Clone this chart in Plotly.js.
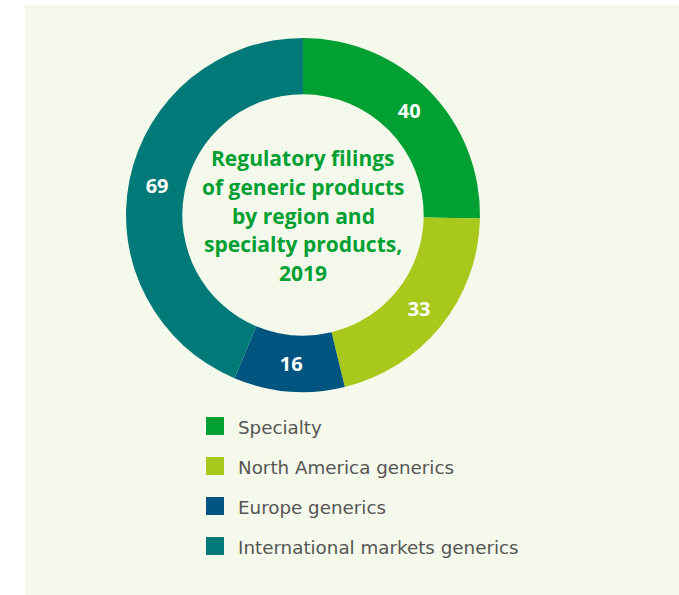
<!DOCTYPE html>
<html>
<head>
<meta charset="utf-8">
<script src="https://cdn.plot.ly/plotly-3.0.1.min.js"></script>
<style>
html,body{margin:0;padding:0;background:#ffffff;}
#chart{width:679px;height:595px;}
</style>
</head>
<body>
<div id="chart"></div>
<script>
const categories = ["Specialty", "North America generics", "Europe generics", "International markets generics"];
const values = [40, 33, 16, 69];
const colors = ["#00a032", "#a8c81c", "#005580", "#007a78"];
const centerTitle = ["Regulatory filings", "of generic products", "by region and", "specialty products,", "2019"];

const W = 679, H = 595;
const px = x => x / W;
const py = y => 1 - y / H;

const trace = {
  type: "pie",
  labels: categories,
  values: values,
  marker: {colors: colors, line: {width: 0}},
  hole: 0.682,
  sort: false,
  direction: "clockwise",
  rotation: 0,
  textinfo: "value",
  textposition: "inside",
  insidetextorientation: "horizontal",
  textfont: {family: "Open Sans", size: 20, color: "#ffffff", weight: 700},
  showlegend: false,
  hoverinfo: "label+value",
  domain: {x: [px(125.5), px(480.5)], y: [py(392), py(38)]}
};

const shapes = [{
  type: "rect", xref: "paper", yref: "paper",
  x0: px(25), x1: 1, y0: 0, y1: py(5),
  fillcolor: "#f5f9eb", line: {width: 0}, layer: "below"
}];
const annotations = [];
centerTitle.forEach((t, i) => {
  annotations.push({
    xref: "paper", yref: "paper", x: px(303), y: py(158 + 28.8 * i),
    xanchor: "center", yanchor: "middle", showarrow: false,
    text: t,
    font: {family: "Open Sans", size: 21, color: "#00a032", weight: 700}
  });
});
categories.forEach((c, i) => {
  const cy = 427 + 40 * i;
  shapes.push({
    type: "rect", xref: "paper", yref: "paper",
    x0: px(206), x1: px(224), y0: py(cy + 8), y1: py(cy - 10),
    fillcolor: colors[i], line: {width: 0}
  });
  annotations.push({
    xref: "paper", yref: "paper", x: px(236), y: py(cy),
    xanchor: "left", yanchor: "middle", showarrow: false,
    text: c,
    font: {family: "DejaVu Sans", size: 18.3, color: "#555555"}
  });
});

const layout = {
  width: W, height: H,
  margin: {l: 0, r: 0, t: 0, b: 0},
  paper_bgcolor: "#ffffff",
  plot_bgcolor: "rgba(0,0,0,0)",
  shapes: shapes,
  annotations: annotations,
  showlegend: false
};

Plotly.newPlot("chart", [trace], layout, {displayModeBar: false, staticPlot: true});
</script>
</body>
</html>
